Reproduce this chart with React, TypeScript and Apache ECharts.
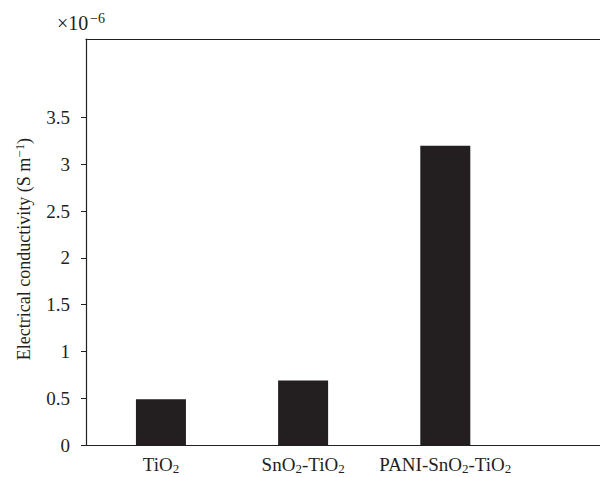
import React, { useEffect, useRef } from "react";
import * as echarts from "echarts";

const categories = ["TiO{s|2}", "SnO{s|2}-TiO{s|2}", "PANI-SnO{s|2}-TiO{s|2}"];
const categoryPositions = [1, 2, 3];
const conductivity = [0.49, 0.69, 3.2];
const yTicks = [0, 0.5, 1, 1.5, 2, 2.5, 3, 3.5];

const INK = "#231f20";
const FONT = "'Liberation Serif', 'Times New Roman', serif";

export default function App() {
  const ref = useRef<HTMLDivElement>(null);
  useEffect(() => {
    if (!ref.current) return;
    const chart = echarts.init(ref.current, null, { renderer: "svg" });
    const subRich = {
      s: { fontSize: 13, lineHeight: 13, verticalAlign: "bottom", fontFamily: FONT, color: INK },
    };
    chart.setOption({
      animation: false,
      grid: { left: 86, right: 0, top: 39, bottom: 32 },
      xAxis: [
        {
          type: "value",
          min: 0.473,
          max: 4.088,
          splitLine: { show: false },
          axisLine: { show: true, onZero: false, lineStyle: { color: INK, width: 1.2 } },
          axisTick: { show: false },
          axisLabel: {
            customValues: categoryPositions,
            margin: 9,
            color: INK,
            fontFamily: FONT,
            fontSize: 19,
            lineHeight: 21,
            verticalAlign: "top",
            formatter: (v: number) => {
              const i = categoryPositions.indexOf(Math.round(v));
              return i >= 0 ? categories[i] : "";
            },
            rich: subRich,
          },
        },
        {
          type: "value",
          position: "top",
          min: 0.473,
          max: 4.088,
          splitLine: { show: false },
          axisLine: { show: true, onZero: false, lineStyle: { color: INK, width: 1.2 } },
          axisTick: { show: false },
          axisLabel: { show: false },
        },
      ],
      yAxis: {
        type: "value",
        min: 0,
        max: 4.34,
        splitLine: { show: false },
        axisLine: { show: true, onZero: false, lineStyle: { color: INK, width: 1.2 } },
        axisTick: { show: true, inside: false, length: 5, customValues: yTicks, lineStyle: { color: INK } },
        axisLabel: {
          customValues: yTicks,
          margin: 16,
          color: INK,
          fontFamily: FONT,
          fontSize: 19,
        },
        name: "Electrical conductivity (S m{p|−1})",
        nameLocation: "middle",
        nameGap: 51,
        nameRotate: 90,
        nameTextStyle: {
          color: INK,
          fontFamily: FONT,
          fontSize: 18,
          lineHeight: 22,
          verticalAlign: "bottom",
          padding: [0, 14, 0, 0],
          rich: {
            p: { fontSize: 13, lineHeight: 22, verticalAlign: "top", fontFamily: FONT, color: INK, padding: [0, 0, 7, 0] },
          },
        },
      },
      series: [
        {
          type: "bar",
          xAxisIndex: 0,
          barWidth: 50,
          itemStyle: { color: INK },
          data: categoryPositions.map((x, i) => [x, conductivity[i]]),
        },
      ],
      graphic: [
        {
          type: "text",
          x: 57,
          y: 33,
          style: {
            text: "×10",
            fill: INK,
            fontSize: 20,
            fontFamily: FONT,
            verticalAlign: "bottom",
            align: "left",
          },
        },
        {
          type: "text",
          x: 90,
          y: 11,
          style: {
            text: "−6",
            fill: INK,
            fontSize: 14,
            fontFamily: FONT,
            verticalAlign: "top",
            align: "left",
          },
        },
      ],
    });
    return () => chart.dispose();
  }, []);
  return (
    <div
      ref={ref}
      style={{ position: "fixed", left: 0, top: 0, width: 600, height: 477, background: "#fff" }}
    />
  );
}
